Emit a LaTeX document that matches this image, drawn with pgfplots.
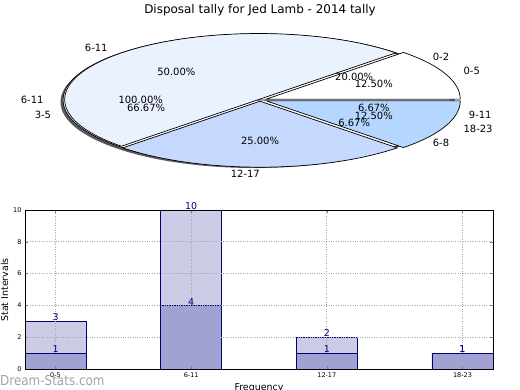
\documentclass[border=0pt]{standalone}
\usepackage{fontspec}
\setmainfont{DejaVu Sans}
\usepackage{pgfplots}
\pgfplotsset{compat=1.18}
\definecolor{pAb}{HTML}{EAF1FF}
\definecolor{pAc}{HTML}{C5D9FF}
\definecolor{pAd}{HTML}{B4D6FF}
\definecolor{barL}{HTML}{CCCCE6}
\definecolor{barD}{HTML}{A2A2D2}
\definecolor{navyc}{HTML}{000080}
\definecolor{wm}{HTML}{9A9A9A}
\def\RX{194}\def\RY{66}
\newcommand\pielabfont{\fontsize{10}{12}\selectfont}
% #1 mode (0 wedge, 1 labels) #2 label #3 pct #4 fill #5 explode #6 pct text
\newcommand\slice[6]{%
  \pgfmathsetmacro\wa{3.6*\piecum}%
  \pgfmathsetmacro\wb{3.6*(\piecum+#3)}%
  \pgfmathsetmacro\wm{(\wa+\wb)/2}%
  \pgfmathsetmacro\ex{#5*\RX*cos(\wm)}%
  \pgfmathsetmacro\ey{#5*\RY*sin(\wm)}%
  \ifnum#1=0
    \edef\tmp{\noexpand\filldraw[fill=#4,draw=black,line width=0.7bp] (axis cs:\ex,\ey) -- ++(\wa:\RX bp and \RY bp) arc[start angle=\wa,end angle=\wb,x radius=\RX bp,y radius=\RY bp] -- cycle;}%
  \else
    \pgfmathsetmacro\lx{\ex+1.1*\RX*cos(\wm)}%
    \pgfmathsetmacro\ly{\ey+1.1*\RY*sin(\wm)}%
    \pgfmathsetmacro\px{\ex+0.6*\RX*cos(\wm)}%
    \pgfmathsetmacro\py{\ey+0.6*\RY*sin(\wm)}%
    \pgfmathtruncatemacro\isright{cos(\wm)>0.001}%
    \ifnum\isright=1 \def\anc{west}\else\def\anc{east}\fi
    \edef\tmp{\noexpand\node[anchor=\anc,inner sep=0pt,font=\noexpand\pielabfont] at (axis cs:\lx,\ly) {#2}; \noexpand\node[inner sep=0pt,font=\noexpand\pielabfont] at (axis cs:\px,\py) {#6\noexpand\%};}%
  \fi
  \tmp
  \pgfmathsetmacro\newcum{\piecum+#3}\xdef\piecum{\newcum}%
}
\newcommand\pieC[1]{\gdef\piecum{0}%
  \slice{#1}{0-2}{20}{white}{0}{20.00}%
  \slice{#1}{3-5}{66.67}{white}{0}{66.67}%
  \slice{#1}{6-8}{6.67}{white}{0}{6.67}%
  \slice{#1}{9-11}{6.66}{white}{0}{6.67}}
\newcommand\pieB[1]{\gdef\piecum{0}%
  \slice{#1}{6-11}{100}{white}{0.015}{100.00}}
\newcommand\pieA[1]{\gdef\piecum{0}%
  \slice{#1}{0-5}{12.5}{white}{0.035}{12.50}%
  \slice{#1}{6-11}{50}{pAb}{0.01}{50.00}%
  \slice{#1}{12-17}{25}{pAc}{0.018}{25.00}%
  \slice{#1}{18-23}{12.5}{pAd}{0.035}{12.50}}
\begin{document}
\begin{tikzpicture}
\useasboundingbox (0,0) rectangle (520bp,390bp);
\node[font=\fontsize{12}{14}\selectfont] at (260bp,380bp) {Disposal tally for Jed Lamb - 2014 tally};
% ---------- pie ----------
\begin{axis}[at={(0,0)}, anchor=south west, x=1bp, y=1bp,
  xmin=-260, xmax=260, ymin=-290, ymax=100, hide axis, clip=false]
  \fill[black!65] (axis cs:-5.5,-2) ellipse [x radius=\RX bp, y radius=\RY bp];
  \pieC{0}\pieB{0}\pieA{0}
  \pieC{1}\pieB{1}\pieA{1}
\end{axis}
% ---------- bars ----------
\begin{axis}[at={(25bp,21bp)}, anchor=south west, scale only axis,
  width=468bp, height=159bp,
  xmin=-0.225, xmax=3.225, ymin=0, ymax=10,
  xtick={0,1,2,3}, xticklabels={0-5,6-11,12-17,18-23},
  ytick={0,2,4,6,8,10},
  tick label style={font=\fontsize{6.5}{7}\selectfont},
  /pgf/number format/assume math mode=true,
  grid=major, major grid style={dotted, black!35, line width=0.8bp},
  tick align=inside, major tick length=3bp,
  axis line style={line width=0.8bp},
  axis on top,
  nodes near coords,
  every node near coord/.append style={font=\fontsize{9.5}{10}\selectfont, text=navyc, anchor=south, inner sep=0pt},
]
\addplot[ybar, bar width=0.45, bar shift=0, fill=barL, draw=navyc, line width=0.7bp]
  coordinates {(0,3) (1,10) (2,2) (3,1)};
\addplot[ybar, bar width=0.45, bar shift=0, fill=barD, draw=navyc, line width=0.7bp]
  coordinates {(0,1) (1,4) (2,1) (3,1)};
\end{axis}
\node[rotate=90, font=\fontsize{9.5}{11}\selectfont] at (4.5bp,100bp) {Stat Intervals};
\node[anchor=north, inner sep=0pt, font=\fontsize{9.5}{11}\selectfont] at (259bp,7bp) {Frequency};
\node[anchor=west, inner sep=0pt, text=wm, font=\fontsize{12}{14}\selectfont, yscale=1.15, opacity=0.9] at (0bp,10bp) {Dream-Stats.com};
\end{tikzpicture}
\end{document}
